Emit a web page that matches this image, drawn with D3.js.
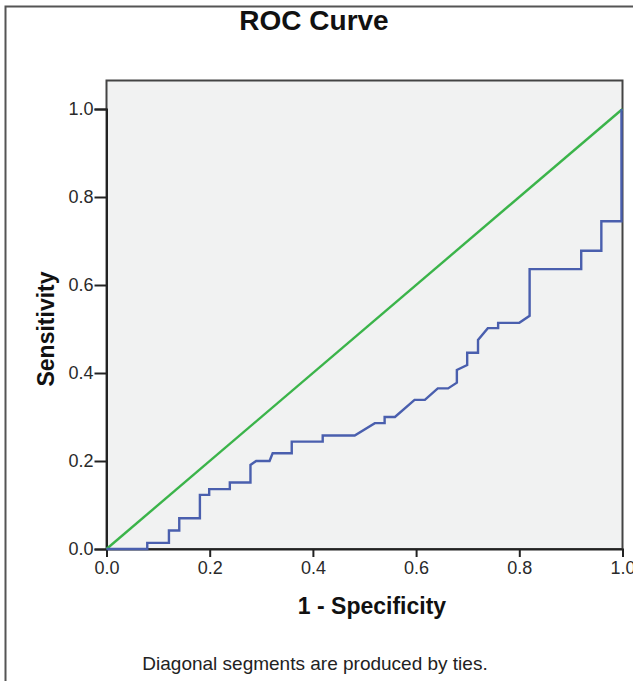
<!DOCTYPE html>
<html>
<head>
<meta charset="utf-8">
<script src="https://cdn.jsdelivr.net/npm/d3@7"></script>
<style>
  body { margin: 0; background: #fff; }
  text { font-family: "Liberation Sans", Arial, sans-serif; }
</style>
</head>
<body>
<div id="chart"></div>
<script>
// ROC curve points (1 - specificity, sensitivity)
var fpr = [0, 0.079, 0.079, 0.121, 0.121, 0.141, 0.141, 0.181, 0.181, 0.199, 0.199, 0.239, 0.239,
  0.279, 0.279, 0.29, 0.316, 0.322, 0.359, 0.359, 0.419, 0.419, 0.481, 0.52, 0.539, 0.539, 0.559,
  0.597, 0.617, 0.642, 0.662, 0.679, 0.679, 0.699, 0.699, 0.72, 0.72, 0.739, 0.759, 0.759, 0.80,
  0.82, 0.82, 0.92, 0.92, 0.959, 0.959, 0.998, 0.998];
var tpr = [0, 0, 0.014, 0.014, 0.042, 0.042, 0.07, 0.07, 0.123, 0.123, 0.136, 0.136, 0.151,
  0.151, 0.191, 0.2, 0.2, 0.2175, 0.2175, 0.244, 0.244, 0.258, 0.258, 0.286, 0.286, 0.30, 0.30,
  0.339, 0.339, 0.365, 0.365, 0.378, 0.407, 0.418, 0.446, 0.446, 0.475, 0.502, 0.502, 0.514, 0.514,
  0.53, 0.636, 0.636, 0.678, 0.678, 0.745, 0.745, 1.0];
// reference diagonal
var refLine = [0, 1];
var ticks = [0, 0.2, 0.4, 0.6, 0.8, 1.0];

var W = 633, H = 681;
var svg = d3.select("#chart").append("svg")
  .attr("width", W).attr("height", H);

// outer frame (left and top edges visible)
svg.append("path")
  .attr("d", "M5.5,681V6.5H" + W)
  .attr("fill", "none").attr("stroke", "#555").attr("stroke-width", 2);

var x = d3.scaleLinear().domain([0, 1]).range([106.5, 622.5]);
var y = d3.scaleLinear().domain([0, 1]).range([549, 109]);

// plot panel
svg.append("rect")
  .attr("x", x(0)).attr("y", 80.5)
  .attr("width", x(1) - x(0)).attr("height", y(0) - 80.5)
  .attr("fill", "#f1f2f2").attr("stroke", "#444").attr("stroke-width", 2);

svg.append("text")
  .attr("x", 314).attr("y", 30)
  .attr("text-anchor", "middle")
  .style("font-size", "28px").style("font-weight", "bold").attr("fill", "#111")
  .text("ROC Curve");

// axes
var xAxis = svg.append("g")
  .attr("transform", "translate(0," + y(0) + ")")
  .call(d3.axisBottom(x).tickValues(ticks).tickFormat(d3.format(".1f")).tickSize(8).tickPadding(4));
var yAxis = svg.append("g")
  .attr("transform", "translate(" + x(0) + ",0)")
  .call(d3.axisLeft(y).tickValues(ticks).tickFormat(d3.format(".1f")).tickSize(12).tickPadding(1));
[xAxis, yAxis].forEach(function(g) {
  g.attr("font-size", null).attr("font-family", null);
  g.select(".domain").attr("stroke", "#222").attr("stroke-width", 2);
  g.selectAll(".tick line").attr("stroke", "#222").attr("stroke-width", 2);
  g.selectAll(".tick text").attr("fill", "#2a2a2a")
    .style("font-size", "18px");
});

// diagonal reference
svg.append("path")
  .datum(refLine)
  .attr("fill", "none").attr("stroke", "#3bb44a").attr("stroke-width", 2.4)
  .attr("d", d3.line().x(function(d) { return x(d); }).y(function(d) { return y(d); }));

// ROC curve
svg.append("path")
  .datum(d3.range(fpr.length))
  .attr("fill", "none").attr("stroke", "#4a5fae").attr("stroke-width", 2.4)
  .attr("d", d3.line().x(function(i) { return x(fpr[i]); }).y(function(i) { return y(tpr[i]); }));

// axis titles
svg.append("text")
  .attr("x", 372).attr("y", 614)
  .attr("text-anchor", "middle")
  .style("font-size", "23px").style("font-weight", "bold").attr("fill", "#111")
  .text("1 - Specificity");

svg.append("text")
  .attr("transform", "translate(54,329) rotate(-90)")
  .attr("text-anchor", "middle")
  .style("font-size", "23px").style("font-weight", "bold").attr("fill", "#111")
  .text("Sensitivity");

svg.append("text")
  .attr("x", 315).attr("y", 670)
  .attr("text-anchor", "middle")
  .style("font-size", "19px").attr("fill", "#222")
  .text("Diagonal segments are produced by ties.");
</script>
</body>
</html>
